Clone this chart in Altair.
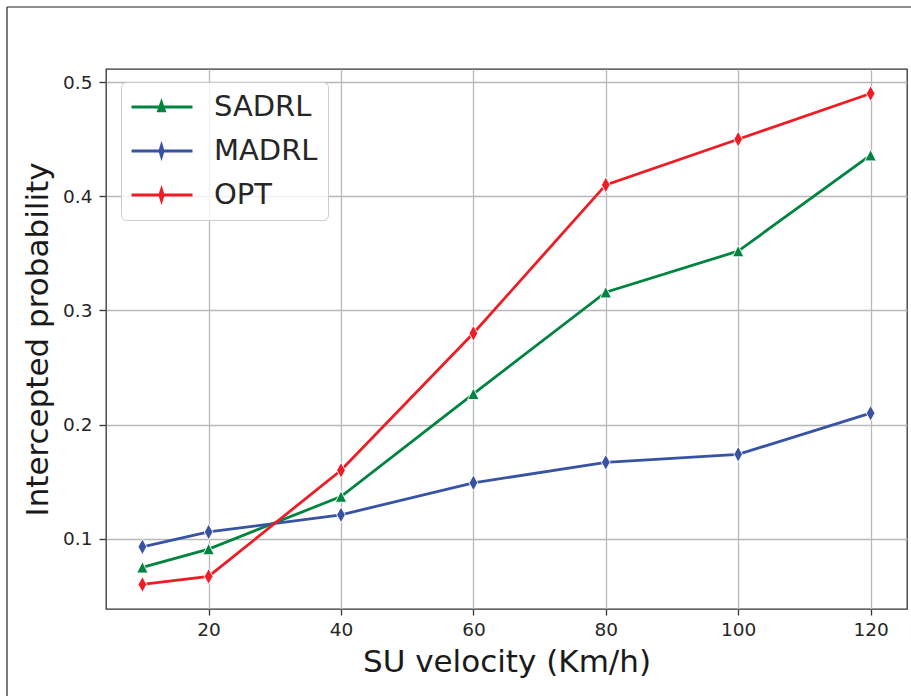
import altair as alt
import pandas as pd

velocity = [10, 20, 40, 60, 80, 100, 120]
series_names = ["SADRL", "MADRL", "OPT"]
sadrl = [0.075, 0.091, 0.137, 0.227, 0.316, 0.352, 0.436]
madrl = [0.093, 0.106, 0.121, 0.149, 0.167, 0.174, 0.210]
opt = [0.060, 0.067, 0.160, 0.280, 0.410, 0.450, 0.490]
x_ticks = [20, 40, 60, 80, 100, 120]
y_ticks = [0.1, 0.2, 0.3, 0.4, 0.5]
colors = ["#00843f", "#3953a4", "#ee1c25"]

rows = []
for name, vals in zip(series_names, [sadrl, madrl, opt]):
    for v, p in zip(velocity, vals):
        rows.append({"velocity": v, "prob": p, "series": name})
df = pd.DataFrame(rows)

TRI = "M0,-1L1,1L-1,1Z"
DIA = "M0,-1L0.55,0L0,1L-0.55,0Z"
marker_paths = [TRI, DIA, DIA]
marker_sizes = [130, 250, 250]
LEG_TRI = "M-1.09,0H3.51M1.17,-0.35L1.39,0.3L0.95,0.3Z"
LEG_DIA = "M-1.09,0H3.51M1.17,-0.4L1.29,0L1.17,0.4L1.05,0Z"

shape_expr = "datum.value === 'SADRL' ? '" + LEG_TRI + "' : '" + LEG_DIA + "'"
color_expr = ("datum.value === 'SADRL' ? '" + colors[0] + "' : (datum.value === 'MADRL' ? '"
              + colors[1] + "' : '" + colors[2] + "')")

xscale = alt.Scale(domain=[4.5, 125.5], nice=False, zero=False)
yscale = alt.Scale(domain=[0.0385, 0.5115], nice=False, zero=False)
cscale = alt.Scale(domain=series_names, range=colors)

base = alt.Chart(df).encode(
    x=alt.X("velocity:Q", scale=xscale,
            axis=alt.Axis(values=x_ticks, title="SU velocity (Km/h)", format="d")),
    y=alt.Y("prob:Q", scale=yscale,
            axis=alt.Axis(values=y_ticks, title="Intercepted probability", format=".1f")),
)

lines = base.mark_line(strokeWidth=2.8).encode(
    color=alt.Color(
        "series:N", scale=cscale, sort=series_names,
        legend=alt.Legend(
            title=None, orient="none", legendX=15, legendY=13,
            symbolSize=702, symbolStrokeWidth=2.8, labelOffset=53,
            symbolType={"expr": shape_expr},
            symbolFillColor={"expr": color_expr},
            symbolStrokeColor={"expr": color_expr},
            symbolOpacity=1,
            labelFontSize=29, labelFont="DejaVu Sans", labelColor="#262626",
            rowPadding=14, padding=10, cornerRadius=5,
            strokeColor="#cccccc", fillColor="rgba(255,255,255,0.8)",
        ),
    ),
)

point_layers = []
for name, path, size in zip(series_names, marker_paths, marker_sizes):
    point_layers.append(
        base.transform_filter(alt.datum.series == name).mark_point(
            filled=True, shape=path, size=size, stroke="white", strokeWidth=0.9, opacity=1
        ).encode(color=alt.Color("series:N", scale=cscale, sort=series_names))
    )

frame = pd.DataFrame({"k": [0]})
left_border = alt.Chart(frame).mark_rule(color="#222222", strokeWidth=1.2).encode(
    x=alt.value(-99), y=alt.value(-62), y2=alt.value(640))
top_border = alt.Chart(frame).mark_rule(color="#222222", strokeWidth=1.2).encode(
    x=alt.value(-99), x2=alt.value(820), y=alt.value(-62))

chart = alt.layer(lines, *point_layers, left_border, top_border).properties(
    width=801, height=540,
    autosize=alt.AutoSizeParams(type="none"),
    padding={"left": 106, "top": 69, "right": 4, "bottom": 87},
    background="white",
).configure_view(
    stroke="#333333", strokeWidth=1.3
).configure_axis(
    grid=True, gridColor="#b8b8b8", gridWidth=1.3, domain=False,
    ticks=True, tickColor="#333333", tickWidth=1.3,
    labelFont="DejaVu Sans", labelFontSize=18.5, labelColor="#262626",
    titleFont="DejaVu Sans", titleFontSize=31, titleFontWeight="normal", titleColor="#1a1a1a",
).configure_axisX(
    tickSize=6, labelPadding=5, titlePadding=9,
).configure_axisY(
    tickSize=7, labelPadding=7, titlePadding=8,
)

chart.save("out.html", embed_options={"renderer": "svg", "actions": False})
